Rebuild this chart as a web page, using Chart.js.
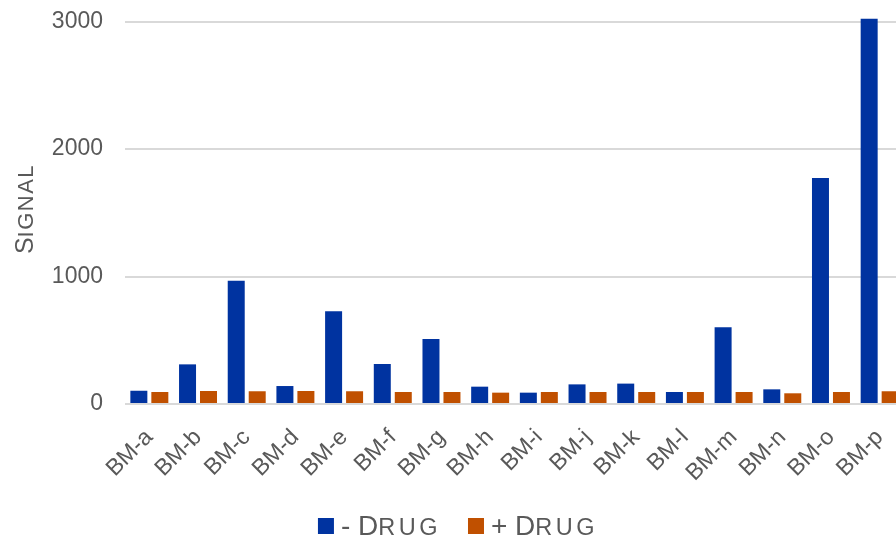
<!DOCTYPE html>
<html>
<head>
<meta charset="utf-8">
<script src="https://cdn.jsdelivr.net/npm/chart.js@4.4.1/dist/chart.umd.min.js"></script>
<style>
  html, body { margin: 0; padding: 0; background: #ffffff; overflow: hidden; }
  #wrap { position: relative; width: 904px; height: 538px; }
</style>
</head>
<body>
<div id="wrap"><canvas id="chart"></canvas></div>
<script>
// Biomarker categories
const categories = ['BM-a', 'BM-b', 'BM-c', 'BM-d', 'BM-e', 'BM-f', 'BM-g', 'BM-h',
                    'BM-i', 'BM-j', 'BM-k', 'BM-l', 'BM-m', 'BM-n', 'BM-o', 'BM-p'];

// Signal without drug
const noDrug = [104, 311, 968, 141, 728, 314, 510, 136, 89, 154, 160, 94, 602, 115, 1774, 3022];

// Signal with drug
const withDrug = [94, 102, 100, 102, 100, 94, 94, 89, 94, 94, 94, 94, 94, 84, 94, 100];

// Labelled y ticks
const yTicks = [0, 1000, 2000, 3000];

const seriesNames = ['- Drug', '+ Drug'];
const seriesColors = ['#0033a0', '#c05000'];
const yTitle = 'Signal';

const grey = '#595959';
const family = '"Liberation Sans", Arial, sans-serif';

// Small capitals: capitals and symbols at full size,
// lower-case letters as smaller capitals with a little extra tracking.
function smallCapsRuns(text, big, small, track) {
  return Array.from(text).map(ch => {
    const lower = ch !== ch.toUpperCase();
    return { ch: lower ? ch.toUpperCase() : ch, size: lower ? small : big, track: lower ? track : 0 };
  });
}
function measureSmallCaps(ctx, text, big, small, track) {
  let w = 0;
  for (const r of smallCapsRuns(text, big, small, track)) {
    ctx.font = r.size + 'px ' + family;
    w += ctx.measureText(r.ch).width + r.track;
  }
  return w;
}
function drawSmallCaps(ctx, text, x, y, big, small, track) {
  ctx.textAlign = 'left';
  ctx.textBaseline = 'alphabetic';
  for (const r of smallCapsRuns(text, big, small, track)) {
    ctx.font = r.size + 'px ' + family;
    ctx.fillText(r.ch, x, y);
    x += ctx.measureText(r.ch).width + r.track;
  }
}

// Axis title and legend, lettered in small capitals
const smallCapsText = {
  id: 'smallCapsText',
  afterDraw(chart) {
    const ctx = chart.ctx;
    const area = chart.chartArea;
    ctx.save();

    // y axis title, rotated
    const tBig = 25, tSmall = 22, tTrack = 1.5;
    const tw = measureSmallCaps(ctx, yTitle, tBig, tSmall, tTrack);
    ctx.save();
    ctx.translate(33, (area.top + area.bottom) / 2 + 7);
    ctx.rotate(-Math.PI / 2);
    ctx.fillStyle = grey;
    drawSmallCaps(ctx, yTitle, -tw / 2, 0, tBig, tSmall, tTrack);
    ctx.restore();

    // legend along the bottom
    const lBig = 28, lSmall = 23.5, lTrack = 3.5, box = 16, gap = 7, itemGap = 27;
    const widths = chart.data.datasets.map(ds => measureSmallCaps(ctx, ds.label, lBig, lSmall, lTrack));
    let total = 0;
    widths.forEach((w, i) => { total += box + gap + w + (i ? itemGap : 0); });
    let x = 458 - total / 2;
    const baseline = 535;
    chart.data.datasets.forEach((ds, i) => {
      ctx.fillStyle = ds.backgroundColor;
      ctx.fillRect(x, baseline - 17, box, box);
      x += box + gap;
      ctx.fillStyle = grey;
      drawSmallCaps(ctx, ds.label, x, baseline, lBig, lSmall, lTrack);
      x += widths[i] + itemGap;
    });
    ctx.restore();
  }
};

new Chart(document.getElementById('chart'), {
  type: 'bar',
  data: {
    labels: categories,
    datasets: [
      { label: seriesNames[0], data: noDrug, backgroundColor: seriesColors[0],
        categoryPercentage: 0.862, barPercentage: 0.81 },
      { label: seriesNames[1], data: withDrug, backgroundColor: seriesColors[1],
        categoryPercentage: 0.862, barPercentage: 0.81 }
    ]
  },
  options: {
    responsive: true,
    maintainAspectRatio: false,
    animation: false,
    layout: { padding: { left: 0, right: 0, top: 0, bottom: 44 } },
    plugins: {
      tooltip: { enabled: false },
      legend: { display: false }
    },
    scales: {
      x: {
        afterFit: (scale) => {
          scale.height = 90;
          scale.paddingLeft = 0;
          scale.paddingRight = 0;
        },
        grid: { display: false, drawTicks: false },
        border: { display: false },
        ticks: {
          color: grey,
          font: { family: family, size: 23 },
          minRotation: 45,
          maxRotation: 45,
          autoSkip: false,
          padding: 20
        }
      },
      y: {
        min: 0,
        max: 3170,
        afterBuildTicks: (scale) => {
          scale.ticks = yTicks.map(v => ({ value: v }));
        },
        afterFit: (scale) => {
          scale.width = 125;
          scale.paddingTop = 0;
          scale.paddingBottom = 0;
        },
        grid: { color: '#d9d9d9', lineWidth: 2, drawTicks: false },
        border: { display: false },
        ticks: {
          color: grey,
          font: { family: family, size: 23 },
          padding: 22,
          callback: (v) => String(v)
        }
      }
    }
  },
  plugins: [smallCapsText]
});
</script>
</body>
</html>
